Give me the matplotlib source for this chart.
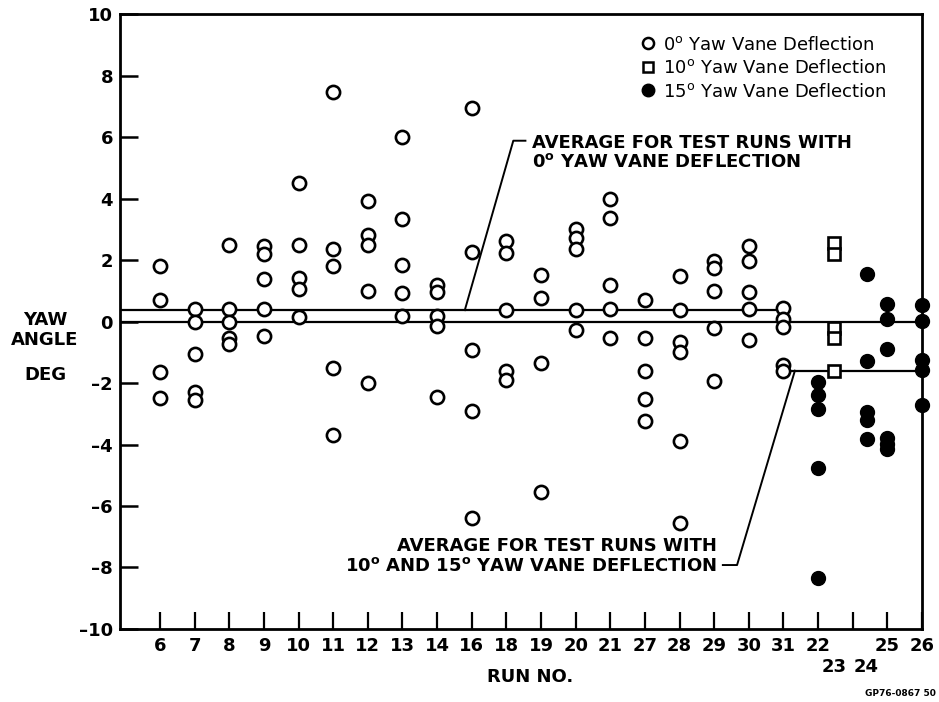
import matplotlib
matplotlib.use('Agg')
import matplotlib.pyplot as plt
from matplotlib.lines import Line2D

plt.rcParams['font.family'] = ['DejaVu Sans']
plt.rcParams['mathtext.fontset'] = 'dejavusans'

# run numbers in the order they appear along the axis
run_order = ['6', '7', '8', '9', '10', '11', '12', '13', '14', '16', '18', '19',
             '20', '21', '27', '28', '29', '30', '31', '22', '23', '24', '25', '26']
run_pos = [0, 1, 2, 3, 4, 5, 6, 7, 8, 9, 10, 11, 12, 13, 14, 15, 16, 17, 18,
           19, 19.45, 20.4, 21, 22]

# 0 deg yaw vane deflection
runs_0deg = ['6', '7', '8', '9', '10', '11', '12', '13', '14', '16', '18', '19',
             '20', '21', '27', '28', '29', '30', '31']
yaw_0deg = [
    [1.8, 0.7, -1.65, -2.5],
    [0.4, 0.0, -1.05, -2.3, -2.55],
    [2.5, 0.4, 0.0, -0.55, -0.72],
    [2.45, 2.2, 1.37, 0.4, -0.46],
    [4.5, 2.5, 1.4, 1.05, 0.16],
    [7.45, 2.37, 1.8, -1.5, -3.7],
    [3.93, 2.8, 2.5, 1.0, -2.0],
    [6.0, 3.32, 1.83, 0.92, 0.18],
    [1.2, 0.95, 0.18, -0.14, -2.47],
    [6.93, 2.27, -0.92, -2.9, -6.4],
    [2.62, 2.24, 0.39, -1.6, -1.9],
    [1.5, 0.75, -1.35, -5.55],
    [3.0, 2.73, 2.35, 0.39, -0.27],
    [4.0, 3.38, 1.2, 0.4, -0.52],
    [0.69, -0.52, -1.6, -2.52, -3.25],
    [1.49, 0.39, -0.65, -1.0, -3.87, -6.55],
    [1.98, 1.75, 1.0, -0.2, -1.95],
    [2.45, 1.97, 0.97, 0.4, -0.6],
    [0.45, 0.07, -0.17, -1.43, -1.6],
]

# 10 deg yaw vane deflection
runs_10deg = ['23']
yaw_10deg = [[2.55, 2.2, -0.2, -0.55, -1.6]]

# 15 deg yaw vane deflection
runs_15deg = ['22', '24', '25', '26']
yaw_15deg = [
    [-1.97, -2.4, -2.83, -4.75, -8.35],
    [1.55, -1.27, -2.95, -3.2, -3.83],
    [0.57, 0.07, -0.88, -3.8, -3.97, -4.15],
    [0.53, 0.03, -1.25, -1.58, -2.73],
]

avg_0deg = 0.37
avg_10_15deg = -1.6

pos = dict(zip(run_order, run_pos))

fig = plt.figure(figsize=(9.39, 7.02), dpi=100)
ax = fig.add_axes([0.1278, 0.104, 0.8541, 0.876])
x_left = -1.155
ax.set_xlim(x_left, 22)
ax.set_ylim(-10, 10)

# average lines
ax.axhline(0, color='black', lw=1.6, zorder=1)
ax.plot([x_left, pos['31']], [avg_0deg, avg_0deg], color='black', lw=1.6, zorder=1)
ax.plot([pos['31'] + 0.15, 22], [avg_10_15deg, avg_10_15deg], color='black', lw=1.6, zorder=1)

def draw(runs, vals, **kw):
    for r, v in zip(runs, vals):
        ax.plot([pos[r]] * len(v), v, linestyle='none', clip_on=False, zorder=3, **kw)

circ = dict(marker='o', mfc='white', mec='black', ms=9.5, mew=1.9)
sq = dict(marker='s', mfc='white', mec='black', ms=8.5, mew=1.9)
dot = dict(marker='o', mfc='black', mec='black', ms=10, mew=1)
draw(runs_0deg, yaw_0deg, **circ)
draw(runs_10deg, yaw_10deg, **sq)
draw(runs_15deg, yaw_15deg, **dot)

# axes styling
for s in ax.spines.values():
    s.set_linewidth(2)
ax.set_yticks(range(-10, 11, 2))
ax.set_yticklabels([str(v).replace('-', '\u2013') for v in range(-10, 11, 2)])
ax.tick_params(axis='y', direction='in', length=13, width=1.8, labelsize=13, pad=5)

main_ticks = list(range(23))
main_labels = []
for p in main_ticks:
    lab = [r for r in run_order if pos[r] == p and r not in ('23', '24')]
    main_labels.append(lab[0] if lab else '')
ax.set_xticks(main_ticks)
ax.set_xticklabels(main_labels)
ax.tick_params(axis='x', direction='in', length=12, width=1.6, labelsize=13, pad=6)
ax.set_xticks([pos['23'], pos['24']], minor=True)
ax.set_xticklabels(['23', '24'], minor=True)
ax.tick_params(axis='x', which='minor', length=0, labelsize=13, pad=21)
for lab in ax.get_xticklabels() + ax.get_yticklabels() + ax.get_xticklabels(minor=True):
    lab.set_fontweight('bold')

# legend
handles = [Line2D([], [], linestyle='none', marker='o', mfc='white', mec='black', ms=8, mew=1.8),
           Line2D([], [], linestyle='none', marker='s', mfc='white', mec='black', ms=7.5, mew=1.8),
           Line2D([], [], linestyle='none', marker='o', mfc='black', mec='black', ms=9)]
labels = ['0$^{\\rm o}$ Yaw Vane Deflection', '10$^{\\rm o}$ Yaw Vane Deflection',
          '15$^{\\rm o}$ Yaw Vane Deflection']
fig.legend(handles, labels, loc='upper left', bbox_to_anchor=(0.674, 0.962), frameon=False,
           fontsize=13, handlelength=0.7, handletextpad=0.45, labelspacing=0.3, borderpad=0)

# annotations
ax.plot([8.8, 10.2, 10.55], [avg_0deg, 5.88, 5.88], color='black', lw=1.4)
ax.text(10.75, 5.5, 'AVERAGE FOR TEST RUNS WITH\n0$^{\\bf o}$ YAW VANE DEFLECTION',
        ha='left', va='center', fontsize=13, fontweight='bold', linespacing=1.1)
ax.plot([18.33, 16.66, 16.25], [avg_10_15deg, -7.92, -7.92], color='black', lw=1.4)
ax.text(16.08, -7.63, 'AVERAGE FOR TEST RUNS WITH\n10$^{\\bf o}$ AND 15$^{\\bf o}$ YAW VANE DEFLECTION',
        ha='right', va='center', multialignment='right', fontsize=13, fontweight='bold',
        linespacing=1.1)

fig.text(530 / 939, 1 - 677 / 702, 'RUN NO.', ha='center', va='center', fontsize=13,
         fontweight='bold')
fig.text(45 / 939, 1 - 320 / 702, 'YAW', ha='center', va='center', fontsize=13, fontweight='bold')
fig.text(45 / 939, 1 - 340 / 702, 'ANGLE', ha='center', va='center', fontsize=13, fontweight='bold')
fig.text(45 / 939, 1 - 375 / 702, 'DEG', ha='center', va='center', fontsize=13, fontweight='bold')
fig.text(0.997, 1 - 694 / 702, 'GP76-0867 50', ha='right', va='center', fontsize=6.5,
         fontweight='bold')

fig.savefig('out.png', dpi=100)
